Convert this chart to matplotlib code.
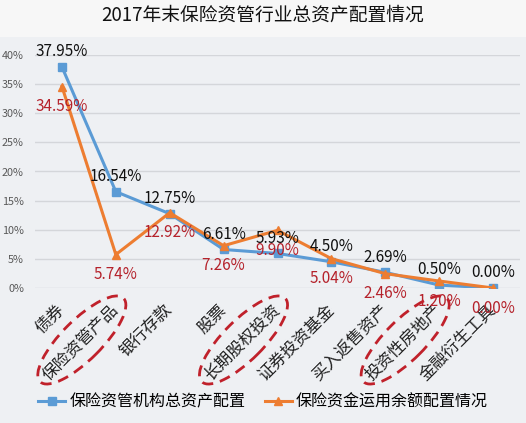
import matplotlib
matplotlib.use("Agg")
import matplotlib.pyplot as plt
from matplotlib.patches import Ellipse, Rectangle
from matplotlib.transforms import IdentityTransform
from matplotlib.ticker import FuncFormatter

plt.rcParams['font.family'] = ['Noto Sans CJK SC', 'DejaVu Sans']

title = "2017年末保险资管行业总资产配置情况"
categories = ["债券", "保险资管产品", "银行存款", "股票", "长期股权投资",
              "证券投资基金", "买入返售资产", "投资性房地产", "金融衍生工具"]
series_names = ["保险资管机构总资产配置", "保险资金运用余额配置情况"]
blue_vals = [37.95, 16.54, 12.75, 6.61, 5.93, 4.50, 2.69, 0.50, 0.00]
orange_vals = [34.59, 5.74, 12.92, 7.26, 9.90, 5.04, 2.46, 1.20, 0.00]
y_ticks = [0, 5, 10, 15, 20, 25, 30, 35, 40]
circled = [1, 4, 7]

W, H = 526, 423
fig = plt.figure(figsize=(W / 100, H / 100), dpi=100)
fig.patch.set_facecolor('#eef0f3')
# lighter title strip
fig.add_artist(Rectangle((0, (H - 37) / H), 1, 37 / H, transform=fig.transFigure,
                         facecolor='#f7f7f7', edgecolor='none', zorder=0))
fig.text(0.5, (H - 15) / H, title, ha='center', va='center', fontsize=13.5, color='#111111')

ax = fig.add_axes([35 / W, (H - 288) / H, 485 / W, (288 - 55) / H])
ax.set_facecolor('none')
x = list(range(len(categories)))
blue = '#5b9bd5'
orange = '#ed7d31'
l1, = ax.plot(x, blue_vals, color=blue, lw=2.2, marker='s', ms=5.5, zorder=3,
              label=series_names[0])
l2, = ax.plot(x, orange_vals, color=orange, lw=2.2, marker='^', ms=6, zorder=4,
              label=series_names[1])

for i in x:
    ax.annotate(f"{blue_vals[i]:.2f}%", (i, blue_vals[i]), xytext=(0, 11),
                textcoords='offset points', ha='center', va='center', fontsize=11,
                color='#111111', zorder=6, annotation_clip=False)
    ax.annotate(f"{orange_vals[i]:.2f}%", (i, orange_vals[i]), xytext=(0, -14.5),
                textcoords='offset points', ha='center', va='center', fontsize=11,
                color='#b5222b', zorder=6, annotation_clip=False)

ax.set_xlim(-0.5, len(categories) - 0.5)
ax.set_ylim(0, 40)
ax.set_yticks(y_ticks)
ax.yaxis.set_major_formatter(FuncFormatter(lambda v, p: f"{v:.0f}%"))
ax.tick_params(axis='y', length=0, labelsize=7.8, labelcolor='#595959', pad=8)
ax.grid(axis='y', color='#d4d6da', lw=1)
ax.set_axisbelow(True)
for s in ax.spines.values():
    s.set_visible(False)
ax.set_xticks(x)
ax.set_xticklabels(categories, rotation=45, ha='right', va='center',
                   rotation_mode='anchor', fontsize=12, color='#222222')
ax.tick_params(axis='x', length=0, pad=14)

fig.legend(handles=[l1, l2], loc='center', bbox_to_anchor=(0.5, (H - 402) / H),
           ncol=2, frameon=False, fontsize=11.5, handlelength=1.7,
           handletextpad=0.25, columnspacing=1.2)

fig.canvas.draw()
for i in circled:
    cx, _ = ax.transData.transform((i, 0))
    e = Ellipse((cx - 34, H - 340), 118, 40, angle=45, transform=IdentityTransform(),
                facecolor='none', edgecolor='#c0212b', lw=2, linestyle=(0, (4, 2.5)),
                zorder=10)
    fig.add_artist(e)

fig.savefig("out.png", dpi=100, facecolor=fig.get_facecolor())
